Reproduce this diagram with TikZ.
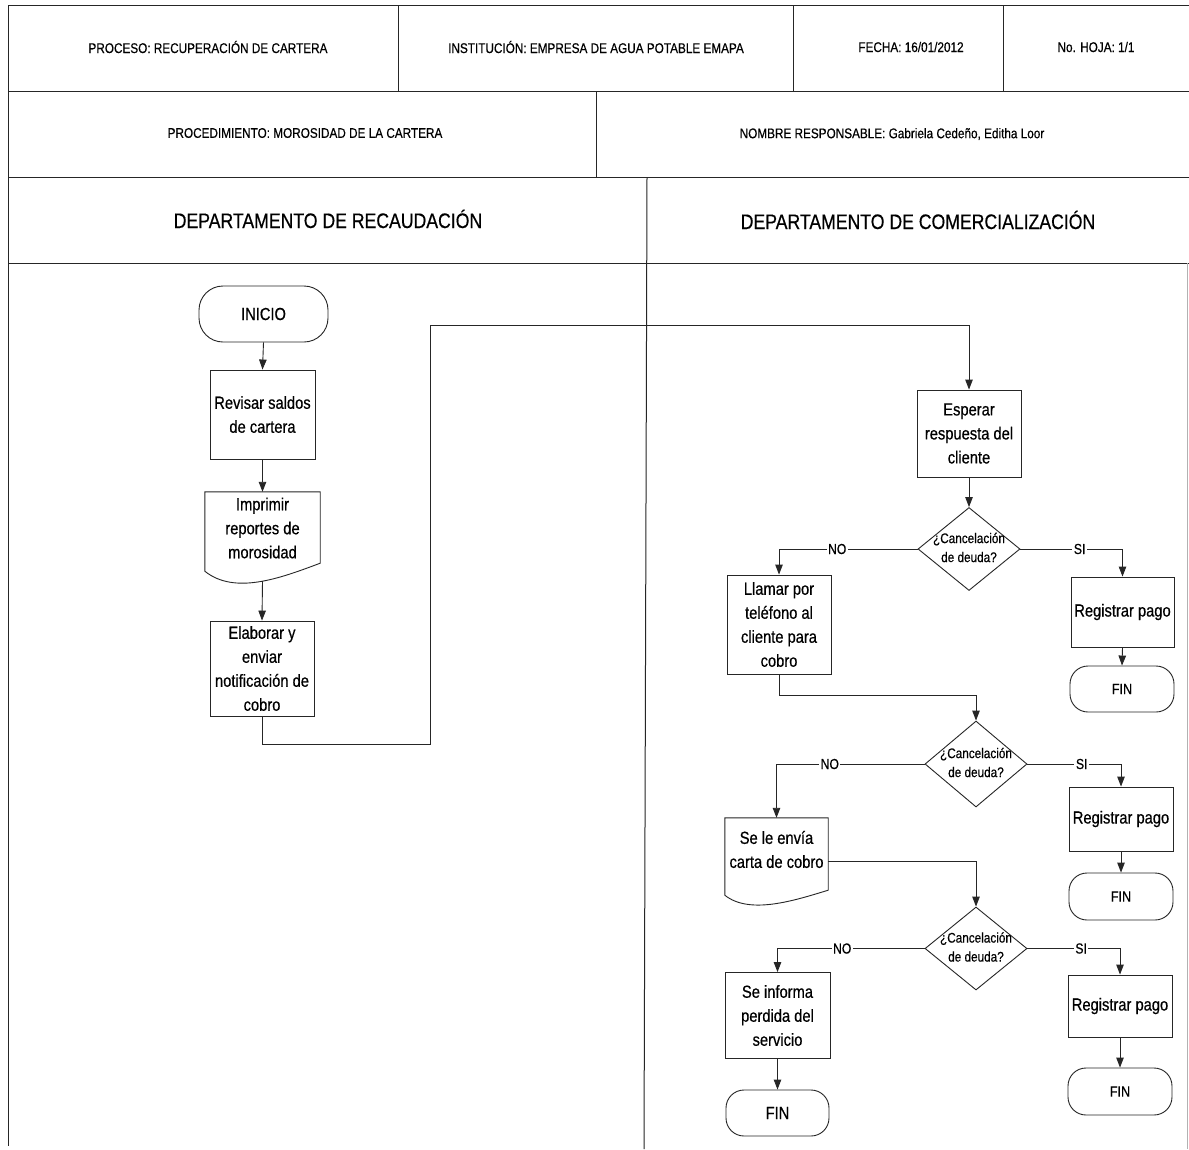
\documentclass[tikz,border=0pt]{standalone}
\usepackage{fontspec}
\setmainfont{Liberation Sans}[FakeStretch=0.84,FakeBold=0.5]
\usetikzlibrary{arrows.meta,shapes.geometric,calc}

% font sizes
\newcommand\fhead{\fontsize{14}{17}\selectfont}
\newcommand\fdept{\fontsize{21}{25}\selectfont}
\newcommand\ftext{\fontsize{17.5}{24}\selectfont}
\newcommand\fdec{\fontsize{14}{19}\selectfont}
\newcommand\flbl{\fontsize{14.5}{16}\selectfont}
\newcommand\ffin{\fontsize{15}{17}\selectfont}

\tikzset{
  ln/.style={draw=black!85, line width=0.9pt},
  arr/.style={ln, -{Triangle[length=10pt,width=7.5pt]}},
  gridline/.style={draw=black!85, line width=1pt},
  procbox/.style={draw=black!85, line width=0.9pt, rectangle, inner sep=0pt,
                  align=center, font=\ftext},
  termbox/.style={procbox, rounded corners=18pt},
  docbox/.style={rectangle, inner sep=0pt, align=center, font=\ftext},
  decbox/.style={draw=black!85, line width=0.9pt, diamond, inner sep=0pt},
  dectext/.style={align=center, font=\fdec, inner sep=0pt},
  lbl/.style={fill=white, inner sep=1.5pt, font=\flbl},
  hdr/.style={font=\fhead, inner sep=0pt},
  dept/.style={font=\fdept, inner sep=0pt},
}

\begin{document}
\begin{tikzpicture}[x=1pt,y=-1pt]
\useasboundingbox (0,0) rectangle (1189,1149);
\fill[white] (0,0) rectangle (1189,1149);

% ---- header grid ----
\draw[gridline] (8,5) -- (1189,5);
\draw[gridline] (8,91) -- (1189,91);
\draw[gridline] (8,177) -- (1189,177);
\draw[gridline] (8,263) -- (1189,263);
\draw[gridline] (8,5) -- (8,1146);
\draw[gridline] (398,5) -- (398,91);
\draw[gridline] (793,5) -- (793,91);
\draw[gridline] (1003,5) -- (1003,91);
\draw[gridline] (596,91) -- (596,177);
\draw[gridline] (647,177) -- (644,1149);
\draw[draw=black!30, line width=0.8pt] (1187,263) -- (1187,1149);

% ---- header texts ----
\node[hdr] (hproc) at (208,47) {PROCESO: RECUPERACIÓN DE CARTERA};
\node[hdr] (hinst) at (596,47) {INSTITUCIÓN: EMPRESA DE AGUA POTABLE EMAPA};
\node[hdr] (hfecha) at (911,47) {FECHA: 16/01/2012};
\node[hdr] (hhoja) at (1096,47) {No. HOJA: 1/1};
\node[hdr] (hproced) at (305,133) {PROCEDIMIENTO: MOROSIDAD DE LA CARTERA};
\node[hdr] (hresp) at (892,134) {NOMBRE RESPONSABLE: Gabriela Cedeño, Editha Loor};
\node[dept] (drec) at (328,219) {DEPARTAMENTO DE RECAUDACIÓN};
\node[dept] (dcom) at (918,220) {DEPARTAMENTO DE COMERCIALIZACIÓN};

% ---- Departamento de Recaudación ----
\node[termbox, rounded corners=24pt, minimum width=129, minimum height=56] (inicio) at (263.5,314) {INICIO};
\node[procbox, minimum width=105, minimum height=89] (rev) at (262.5,414.5) {Revisar saldos\\de cartera};
\node[docbox, minimum width=115, minimum height=72] (imp) at (262.5,528) {Imprimir\\reportes de\\morosidad};
\draw[ln] (imp.north west) -- (imp.north east) -- ($(imp.south east)+(0,-1)$)
  .. controls ($(imp.south east)+(-40,14)$) and ($(imp.south west)+(30,31)$) ..
  ($(imp.south west)+(0,7)$) -- cycle;
\node[procbox, minimum width=104, minimum height=95] (elab) at (262,668.5) {Elaborar y\\enviar\\notificación de\\cobro};

% ---- Departamento de Comercialización ----
\node[procbox, minimum width=104, minimum height=87] (esp) at (969,433.5) {Esperar\\respuesta del\\cliente};

\node[decbox, minimum width=102, minimum height=83] (dec1) at (969,549) {};
\node[dectext] (dec1t) at (969,547.5) {¿Cancelación\\de deuda?};
\node[procbox, minimum width=104, minimum height=99] (llam) at (779,624.5) {Llamar por\\teléfono al\\cliente para\\cobro};
\node[procbox, minimum width=103, minimum height=70] (reg1) at (1122.5,612) {Registrar pago};
\node[termbox, font=\ffin, minimum width=104, minimum height=46] (fin1) at (1122,689) {FIN};

\node[decbox, minimum width=102, minimum height=86] (dec2) at (976,764) {};
\node[dectext] (dec2t) at (976,762.5) {¿Cancelación\\de deuda?};
\node[docbox, minimum width=103, minimum height=63] (doc2) at (776.5,849.5) {Se le envía\\carta de cobro};
\draw[ln] (doc2.north west) -- (doc2.north east) -- ($(doc2.south east)+(0,9)$)
  .. controls ($(doc2.south east)+(-33,19)$) and ($(doc2.south west)+(25,34)$) ..
  ($(doc2.south west)+(0,14)$) -- cycle;
\node[procbox, minimum width=104, minimum height=64] (reg2) at (1121,819) {Registrar pago};
\node[termbox, font=\ffin, minimum width=104, minimum height=47] (fin2) at (1121,896.5) {FIN};

\node[decbox, minimum width=102, minimum height=83] (dec3) at (976,948.5) {};
\node[dectext] (dec3t) at (976,947) {¿Cancelación\\de deuda?};
\node[procbox, minimum width=105, minimum height=86] (inf) at (777.5,1015.5) {Se informa\\perdida del\\servicio};
\node[termbox, minimum width=103, minimum height=46] (fin3) at (777.5,1113) {FIN};
\node[procbox, minimum width=104, minimum height=62] (reg3) at (1120,1006) {Registrar pago};
\node[termbox, font=\ffin, minimum width=104, minimum height=47] (fin4) at (1120,1091.5) {FIN};

% ---- connectors ----
\coordinate (j1) at (430,744);
\coordinate (j2) at (430,325);
\draw[arr] (inicio.south) -- (rev.north);
\draw[arr] (rev.south) -- (imp.north);
\draw[arr] ($(imp.south)+(0,17)$) -- (elab.north);
\draw[arr] (elab.south) |- (j1) -- (j2) -| (esp.north);
\draw[arr] (esp.south) -- (dec1.north);

\draw[arr] (dec1.west) -| node[lbl, pos=0.29] {NO} (llam.north);
\draw[arr] (dec1.east) -| node[lbl, pos=0.29] {SI} (reg1.north);
\draw[arr] (reg1.south) -- (fin1.north);
\draw[arr] (llam.south) -- ++(0,21) -| (dec2.north);

\draw[arr] (dec2.west) -| node[lbl, pos=0.32] {NO} (doc2.north);
\draw[arr] (dec2.east) -| node[lbl, pos=0.29] {SI} (reg2.north);
\draw[arr] (reg2.south) -- (fin2.north);
\draw[arr] ($(doc2.north east)+(0,44)$) -| (dec3.north);

\draw[arr] (dec3.west) -| node[lbl, pos=0.28] {NO} (inf.north);
\draw[arr] (dec3.east) -| node[lbl, pos=0.29] {SI} (reg3.north);
\draw[arr] (inf.south) -- (fin3.north);
\draw[arr] (reg3.south) -- (fin4.north);
\end{tikzpicture}
\end{document}
